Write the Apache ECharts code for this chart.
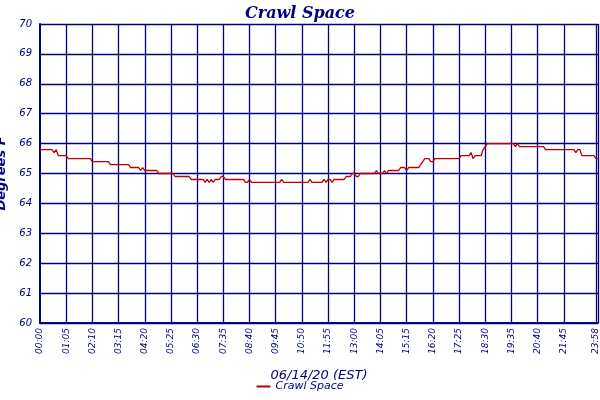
<!DOCTYPE html>
<html><head><meta charset="utf-8">
<script src="https://cdn.jsdelivr.net/npm/echarts@6/dist/echarts.min.js"></script>
<style>html,body{margin:0;padding:0;background:#fff}#c{width:600px;height:400px}</style>
</head><body><div id="c"></div>
<script>
// Temperature readings as [value, number of consecutive samples]
const runs = [
 [65.8,7],[65.7,1],[65.8,1],[65.6,5],[65.5,12],[65.4,9],[65.3,10],[65.2,5],[65.1,1],[65.2,1],
 [65.1,7],[65.0,8],[64.9,8],[64.8,7],[64.7,1],[64.8,1],[64.7,1],[64.8,1],[64.7,1],[64.8,3],
 [64.9,2],[64.8,10],[64.7,2],[64.8,1],[64.7,15],[64.8,1],[64.7,13],[64.8,1],[64.7,6],
 [64.8,1],[64.7,1],[64.8,2],[64.7,1],[64.8,6],[64.9,3],[65.0,2],[64.9,2],[65.0,8],[65.1,1],
 [65.0,3],[65.1,1],[65.0,1],[65.1,6],[65.2,3],[65.1,1],[65.2,6],[65.3,1],[65.4,1],[65.5,3],
 [65.4,2],[65.5,13],[65.6,5],[65.7,1],[65.5,1],[65.6,4],[65.8,1],[65.9,1],[66.0,14],[65.9,1],
 [66.0,1],[65.9,13],[65.8,15],[65.7,1],[65.8,2],[65.6,7],[65.5,2]
];
const tickLabels = ["00:00","01:05","02:10","03:15","04:20","05:25","06:30","07:35","08:40","09:45",
 "10:50","11:55","13:00","14:05","15:15","16:20","17:25","18:30","19:35","20:40","21:45"];
const endLabels = ["23:58","23:59"];

const values = [];
runs.forEach(([v,n]) => { for (let i=0;i<n;i++) values.push(v); });
const nMain = values.length - endLabels.length;
const categories = [];
for (let i=0;i<nMain;i++){ const m=i*5; categories.push(String(Math.floor(m/60)).padStart(2,'0')+':'+String(m%60).padStart(2,'0')); }
endLabels.forEach(l=>categories.push(l));

const navy = '#000080';
const font = 'DejaVu Sans';
const shown = i => (i % 13 === 0 && i/13 < tickLabels.length) || i >= nMain;
const chart = echarts.init(document.getElementById('c'));
chart.setOption({
  animation:false,
  title:{text:'Crawl Space',left:'center',top:1,textStyle:{color:navy,fontStyle:'italic',fontWeight:'bold',fontSize:16,fontFamily:'DejaVu Serif'}},
  legend:{bottom:3,left:'center',itemWidth:14,itemHeight:2,icon:'rect',textStyle:{color:navy,fontStyle:'italic',fontSize:11,fontFamily:font},data:['Crawl Space']},
  grid:{left:40,right:2,top:24,bottom:77,containLabel:false,outerBoundsMode:'none'},
  xAxis:{type:'category',data:categories,boundaryGap:false,
    name:'06/14/20 (EST)',nameLocation:'middle',nameGap:46,
    nameTextStyle:{color:navy,fontStyle:'italic',fontSize:13,fontFamily:font},
    axisLine:{lineStyle:{color:navy,width:2}},
    axisTick:{show:false},
    axisLabel:{interval:(i)=>shown(i),rotate:90,hideOverlap:false,color:navy,fontStyle:'italic',fontSize:9,fontFamily:font,margin:5,
      formatter:(v,i)=> i>=nMain ? v : tickLabels[i/13]},
    splitLine:{show:true,interval:(i)=>shown(i)&&i>0,lineStyle:{color:navy,width:1.3}}},
  yAxis:{type:'value',min:60,max:70,interval:1,
    name:'Degrees F',nameLocation:'middle',nameGap:26,
    nameTextStyle:{color:navy,fontStyle:'italic',fontWeight:'bold',fontSize:13,fontFamily:font},
    axisLine:{show:true,lineStyle:{color:navy,width:2}},
    axisTick:{show:false},
    axisLabel:{color:navy,fontStyle:'italic',fontSize:10,fontFamily:font,margin:8,formatter:v=>String(v)},
    splitLine:{lineStyle:{color:navy,width:1.3}}},
  series:[{name:'Crawl Space',type:'line',data:values,showSymbol:false,
    lineStyle:{color:'#c00000',width:1.3},itemStyle:{color:'#c00000'}}]
});
</script></body></html>
